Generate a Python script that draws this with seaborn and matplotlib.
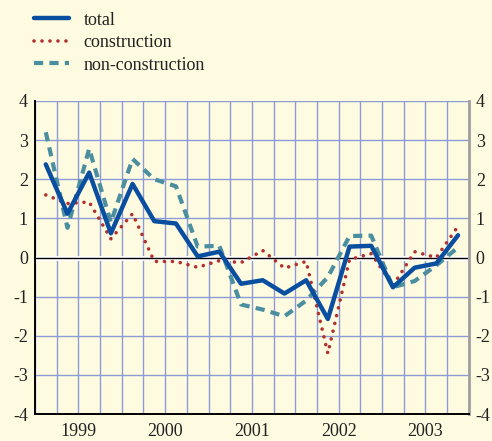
import numpy as np
import pandas as pd
import matplotlib
matplotlib.use('Agg')
import matplotlib.pyplot as plt
import seaborn as sns

# quarterly values, 1999Q1 .. 2003Q4
years = ['1999', '2000', '2001', '2002', '2003']
total = [2.38, 1.12, 2.17, 0.62, 1.88, 0.93, 0.87, 0.03, 0.15, -0.67,
         -0.58, -0.92, -0.58, -1.57, 0.28, 0.30, -0.76, -0.26, -0.15, 0.57]
construction = [1.60, 1.38, 1.42, 0.48, 1.12, -0.10, -0.10, -0.25, -0.08, -0.13,
                0.18, -0.27, -0.10, -2.45, -0.05, 0.10, -0.72, 0.15, 0.00, 0.80]
non_construction = [3.20, 0.76, 2.78, 0.90, 2.52, 2.00, 1.82, 0.28, 0.30, -1.20,
                    -1.33, -1.50, -1.10, -0.50, 0.55, 0.56, -0.76, -0.60, -0.20, 0.26]

quarter = np.arange(len(total))
df = pd.DataFrame({'quarter': quarter, 'total': total,
                   'construction': construction, 'non-construction': non_construction})

sns.set_style('white')
plt.rcParams['font.family'] = ['Liberation Serif', 'DejaVu Serif']
plt.rcParams['axes.unicode_minus'] = False

bg = '#fefbe0'
grid_col = '#8c9bd6'

fig = plt.figure(figsize=(4.92, 4.41), dpi=100, facecolor=bg)
ax = fig.add_axes([0.071, 0.061, 0.882, 0.710], facecolor=bg)

# grid: quarters vertically, integers horizontally
ax.set_xlim(-0.5, 19.5)
ax.set_ylim(-4, 4)
ax.set_xticks(np.arange(-0.5, 20, 4))
ax.set_xticks(np.arange(-0.5, 20, 1), minor=True)
ax.set_yticks(range(-4, 5))
ax.grid(which='both', axis='x', color=grid_col, lw=1.0)
ax.grid(which='major', axis='y', color=grid_col, lw=1.0)
ax.set_axisbelow(True)

ax.axhline(0, color='white', lw=3.5, zorder=1.5)
ax.axhline(0, color='black', lw=1.0, zorder=1.6)

sns.lineplot(data=df, x='quarter', y='total', ax=ax, color='#0a4f9f', lw=3.2,
             label='total', zorder=4)
sns.lineplot(data=df, x='quarter', y='construction', ax=ax, color='#b0312f', lw=2.6,
             linestyle=(0, (0.01, 2.2)), dash_capstyle='round', label='construction', zorder=3)
sns.lineplot(data=df, x='quarter', y='non-construction', ax=ax, color='#4a8ea0', lw=3.0,
             linestyle=(0, (2.2, 1.5)), label='non-construction', zorder=2)

ax.set_xlabel('')
ax.set_ylabel('')
ax.set_xticklabels([])

ax.spines['top'].set_visible(False)
ax.spines['left'].set_color('black')
ax.spines['left'].set_linewidth(1.4)
ax.spines['bottom'].set_color('black')
ax.spines['bottom'].set_linewidth(1.4)
ax.spines['right'].set_color('#a0a0a0')
ax.spines['right'].set_linewidth(2.0)

ax.tick_params(axis='y', which='both', length=0, labelsize=13, pad=5,
               labelleft=True, labelright=True, colors='#222222')
ax.tick_params(axis='x', which='major', length=7, width=1.3, color='black', direction='out')
ax.tick_params(axis='x', which='minor', length=4, width=1.3, color='black', direction='out')

for i, y in enumerate(years):
    ax.text(1.5 + 4 * i, -0.030, y, transform=ax.get_xaxis_transform(),
            ha='center', va='top', fontsize=13, color='#222222')

leg = ax.legend(loc='upper left', bbox_to_anchor=(0.045, 1.0), bbox_transform=fig.transFigure,
                frameon=False, fontsize=13, handlelength=1.95, handletextpad=0.8,
                labelspacing=0.3, borderpad=0.15)
for t in leg.get_texts():
    t.set_color('#222222')

fig.savefig('out.png', dpi=100, facecolor=bg)
